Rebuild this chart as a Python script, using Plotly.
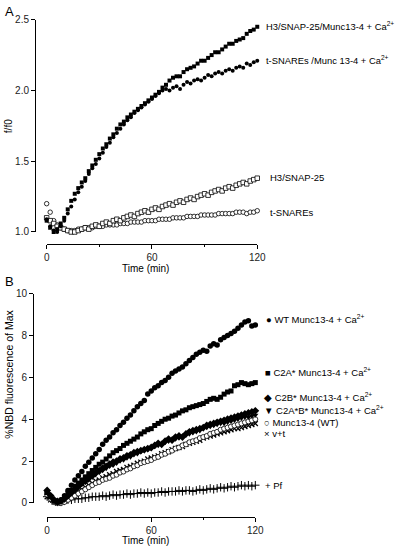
import plotly.graph_objects as go

# ---------------- data ----------------
time_min = [0, 2, 4, 6, 8, 10, 12, 14, 16, 18, 20, 22, 24, 26, 28, 30, 32, 34, 36, 38,
            40, 42, 44, 46, 48, 50, 52, 54, 56, 58, 60, 62, 64, 66, 68, 70, 72, 74, 76, 78,
            80, 82, 84, 86, 88, 90, 92, 94, 96, 98, 100, 102, 104, 106, 108, 110, 112, 114,
            116, 118, 120]

# Panel A (f/f0)
a_h3_snap25_munc_ca = [1.08, 1.03, 1.00, 1.02, 1.06, 1.10, 1.16, 1.22, 1.27, 1.31,
                       1.35, 1.38, 1.43, 1.47, 1.51, 1.55, 1.59, 1.62, 1.66, 1.69,
                       1.73, 1.76, 1.78, 1.81, 1.83, 1.85, 1.87, 1.89, 1.91, 1.93,
                       1.95, 1.97, 1.99, 2.02, 2.04, 2.07, 2.09, 2.10, 2.10, 2.13,
                       2.15, 2.16, 2.17, 2.19, 2.21, 2.21, 2.23, 2.25, 2.27, 2.27,
                       2.29, 2.31, 2.33, 2.33, 2.35, 2.36, 2.37, 2.40, 2.42, 2.43, 2.45]
a_tsnare_munc_ca = [1.09, 1.04, 1.01, 1.00, 1.04, 1.08, 1.13, 1.18, 1.23, 1.28,
                    1.32, 1.36, 1.41, 1.45, 1.48, 1.52, 1.56, 1.60, 1.63, 1.67,
                    1.70, 1.73, 1.76, 1.79, 1.81, 1.84, 1.86, 1.88, 1.90, 1.92,
                    1.94, 1.96, 1.98, 2.00, 2.01, 2.00, 2.02, 2.03, 2.01, 2.04,
                    2.06, 2.05, 2.07, 2.08, 2.07, 2.09, 2.11, 2.10, 2.12, 2.13,
                    2.12, 2.14, 2.15, 2.14, 2.16, 2.17, 2.16, 2.19, 2.18, 2.20, 2.21]
a_h3_snap25 = [1.10, 1.08, 1.06, 1.04, 1.03, 1.02, 1.01, 1.00, 1.00, 1.01,
               1.02, 1.03, 1.02, 1.04, 1.05, 1.04, 1.06, 1.07, 1.06, 1.08,
               1.09, 1.08, 1.10, 1.11, 1.12, 1.11, 1.13, 1.14, 1.15, 1.14,
               1.16, 1.17, 1.16, 1.18, 1.19, 1.20, 1.19, 1.21, 1.22, 1.21,
               1.23, 1.24, 1.23, 1.25, 1.26, 1.27, 1.26, 1.28, 1.29, 1.30,
               1.29, 1.31, 1.32, 1.31, 1.33, 1.34, 1.35, 1.34, 1.36, 1.37, 1.38]
a_tsnares = [1.20, 1.14, 1.08, 1.05, 1.03, 1.02, 1.01, 1.01, 1.01, 1.02,
             1.02, 1.03, 1.03, 1.03, 1.04, 1.04, 1.04, 1.05, 1.05, 1.05,
             1.05, 1.06, 1.06, 1.06, 1.07, 1.07, 1.07, 1.07, 1.08, 1.08,
             1.08, 1.08, 1.09, 1.09, 1.09, 1.09, 1.10, 1.10, 1.10, 1.10,
             1.11, 1.11, 1.11, 1.11, 1.12, 1.12, 1.12, 1.12, 1.12, 1.13,
             1.13, 1.13, 1.13, 1.13, 1.14, 1.14, 1.14, 1.13, 1.14, 1.14, 1.15]

# Panel B (%NBD fluorescence of Max)
b_wt_ca = [0.50, 0.30, 0.10, 0.05, 0.15, 0.35, 0.60, 0.85, 1.10, 1.30,
           1.50, 1.75, 1.95, 2.15, 2.35, 2.55, 2.80, 3.00, 3.15, 3.35,
           3.50, 3.70, 3.85, 4.05, 4.20, 4.40, 4.60, 4.75, 4.90, 5.20,
           5.35, 5.50, 5.60, 5.75, 5.85, 6.00, 6.20, 6.30, 6.40, 6.50,
           6.65, 6.80, 6.95, 7.10, 7.20, 7.30, 7.25, 7.50, 7.60, 7.55,
           7.80, 7.90, 8.00, 8.10, 8.20, 8.35, 8.50, 8.65, 8.70, 8.45, 8.50]
b_c2a_ca = [0.50, 0.30, 0.10, 0.05, 0.10, 0.25, 0.45, 0.60, 0.80, 0.95,
            1.10, 1.25, 1.40, 1.55, 1.70, 1.85, 1.95, 2.10, 2.25, 2.40,
            2.50, 2.60, 2.75, 2.85, 2.95, 3.05, 3.15, 3.30, 3.40, 3.50,
            3.55, 3.70, 3.80, 3.90, 4.00, 4.05, 4.15, 4.20, 4.30, 4.40,
            4.45, 4.55, 4.60, 4.65, 4.70, 4.75, 4.85, 4.95, 5.00, 4.95,
            5.05, 5.20, 5.30, 5.35, 5.60, 5.65, 5.75, 5.70, 5.65, 5.70, 5.75]
b_c2b_ca = [0.60, 0.35, 0.15, 0.05, 0.10, 0.20, 0.35, 0.50, 0.65, 0.80,
            0.95, 1.05, 1.20, 1.30, 1.45, 1.55, 1.65, 1.75, 1.85, 1.95,
            2.00, 2.10, 2.15, 2.25, 2.30, 2.40, 2.45, 2.50, 2.55, 2.60,
            2.65, 2.75, 2.85, 2.80, 2.95, 3.05, 3.00, 3.15, 3.20, 3.15,
            3.30, 3.40, 3.45, 3.50, 3.55, 3.60, 3.70, 3.75, 3.80, 3.85,
            3.90, 3.95, 4.00, 4.05, 4.10, 4.15, 4.20, 4.25, 4.30, 4.35, 4.40]
b_c2ab_ca = [0.55, 0.30, 0.15, 0.05, 0.05, 0.15, 0.30, 0.45, 0.60, 0.75,
             0.90, 1.00, 1.10, 1.25, 1.35, 1.45, 1.55, 1.65, 1.75, 1.80,
             1.90, 2.00, 2.05, 2.15, 2.20, 2.30, 2.35, 2.45, 2.50, 2.55,
             2.60, 2.70, 2.75, 2.80, 2.90, 2.95, 3.00, 3.05, 3.10, 3.20,
             3.25, 3.30, 3.35, 3.40, 3.45, 3.55, 3.60, 3.65, 3.70, 3.75,
             3.80, 3.80, 3.85, 3.90, 3.95, 4.00, 4.05, 4.10, 4.10, 4.15, 4.20]
b_munc_wt = [0.40, 0.20, 0.05, 0.00, 0.00, 0.05, 0.15, 0.25, 0.35, 0.45,
             0.55, 0.65, 0.75, 0.85, 0.95, 1.00, 1.10, 1.15, 1.20, 1.30,
             1.35, 1.45, 1.50, 1.60, 1.65, 1.75, 1.80, 1.90, 1.95, 2.00,
             2.05, 2.15, 2.20, 2.30, 2.35, 2.45, 2.50, 2.60, 2.65, 2.75,
             2.80, 2.90, 2.95, 3.00, 3.10, 3.15, 3.20, 3.30, 3.35, 3.40,
             3.50, 3.55, 3.60, 3.65, 3.70, 3.75, 3.80, 3.85, 3.90, 3.95, 4.00]
b_v_t = [0.30, 0.15, 0.05, 0.00, 0.05, 0.10, 0.20, 0.35, 0.45, 0.55,
         0.65, 0.75, 0.85, 0.95, 1.05, 1.10, 1.20, 1.25, 1.35, 1.40,
         1.50, 1.55, 1.60, 1.70, 1.75, 1.80, 1.90, 1.95, 2.00, 2.10,
         2.15, 2.20, 2.25, 2.35, 2.40, 2.45, 2.55, 2.60, 2.65, 2.70,
         2.80, 2.85, 2.90, 2.95, 3.00, 3.10, 3.15, 3.20, 3.25, 3.30,
         3.35, 3.40, 3.45, 3.50, 3.55, 3.55, 3.60, 3.65, 3.70, 3.75, 3.80]
b_pf = [0.30, 0.20, 0.10, 0.05, 0.05, 0.10, 0.15, 0.15, 0.20, 0.20,
        0.20, 0.25, 0.25, 0.30, 0.30, 0.30, 0.35, 0.30, 0.35, 0.40,
        0.35, 0.40, 0.40, 0.45, 0.40, 0.45, 0.45, 0.50, 0.45, 0.50,
        0.45, 0.50, 0.50, 0.55, 0.50, 0.55, 0.55, 0.55, 0.60, 0.55,
        0.60, 0.60, 0.55, 0.60, 0.65, 0.60, 0.65, 0.70, 0.65, 0.70,
        0.75, 0.70, 0.75, 0.80, 0.75, 0.80, 0.85, 0.80, 0.85, 0.80, 0.85]

x_ticks = [0, 60, 120]
a_y_ticks = [1.0, 1.5, 2.0, 2.5]
a_y_ticklabels = ["1.0", "1.5", "2.0", "2.5"]
b_y_ticks = [0, 2, 4, 6, 8, 10]

for arr in [a_h3_snap25_munc_ca, a_tsnare_munc_ca, a_h3_snap25, a_tsnares, b_wt_ca, b_c2a_ca,
            b_c2b_ca, b_c2ab_ca, b_munc_wt, b_v_t, b_pf]:
    assert len(arr) == len(time_min), len(arr)

# ---------------- figure ----------------
W, H = 406, 553
FONT = "Liberation Sans, Arial, sans-serif"


def px(x):
    return x / W


def py(y):
    return 1 - y / H


fig = go.Figure()


def add(x, y, symbol, size, xa, ya, color="black", lw=0.8):
    fig.add_trace(go.Scatter(
        x=x, y=y, mode="markers", xaxis=xa, yaxis=ya, cliponaxis=False,
        marker=dict(symbol=symbol, size=size, color=color,
                    line=dict(color="black", width=lw)),
        showlegend=False, hoverinfo="x+y"))


# Panel A
add(time_min, a_tsnares, "circle", 4.5, "x", "y", color="white", lw=0.8)
add(time_min, a_h3_snap25, "square", 4.5, "x", "y", color="white", lw=0.8)
add(time_min, a_tsnare_munc_ca, "circle", 4, "x", "y", lw=0)
add(time_min, a_h3_snap25_munc_ca, "square", 4, "x", "y", lw=0)

# Panel B
add(time_min, b_pf, "cross-thin-open", 6, "x2", "y2", lw=1)
add(time_min, b_v_t, "x-thin-open", 5, "x2", "y2", lw=1.3)
add(time_min, b_munc_wt, "circle", 5, "x2", "y2", color="white", lw=0.8)
add(time_min, b_c2ab_ca, "triangle-down", 5.5, "x2", "y2", lw=0)
add(time_min, b_c2b_ca, "diamond", 6, "x2", "y2", lw=0)
add(time_min, b_c2a_ca, "square", 5, "x2", "y2", lw=0)
add(time_min, b_wt_ca, "circle", 5.5, "x2", "y2", lw=0)

axis_common = dict(showgrid=False, zeroline=False, showline=True, linecolor="black",
                   linewidth=1, ticks="outside", ticklen=4, tickwidth=1, tickcolor="black",
                   tickfont=dict(family=FONT, size=10, color="#222"))

fig.update_layout(
    width=W, height=H, margin=dict(l=0, r=0, t=0, b=0),
    plot_bgcolor="white", paper_bgcolor="white",
    xaxis=dict(domain=[px(45), px(262)], range=[0, 120], anchor="free", position=py(243),
               tickvals=x_ticks, minor=dict(tickvals=[30, 90], ticks="outside", ticklen=2,
                                            tickcolor="black"), **axis_common),
    yaxis=dict(domain=[py(231), py(14)], range=[1.0, 2.5], anchor="free", position=px(33),
               tickvals=a_y_ticks, ticktext=a_y_ticklabels, **axis_common),
    xaxis2=dict(domain=[px(45.5), px(260)], range=[0, 120], anchor="free", position=py(522.5),
                tickvals=x_ticks, minor=dict(tickvals=[30, 90], ticks="outside", ticklen=2,
                                             tickcolor="black"), **axis_common),
    yaxis2=dict(domain=[py(508), py(294)], range=[0, 10], anchor="free", position=px(31),
                tickvals=b_y_ticks, **axis_common),
)


def ann(text, x, y, xanchor="left", size=9.5, angle=0):
    fig.add_annotation(text=text, x=px(x), y=py(y), xref="paper", yref="paper",
                       xanchor=xanchor, yanchor="middle", showarrow=False, textangle=angle,
                       font=dict(family=FONT, size=size, color="black"))


# panel letters
ann("A", 0, 6, size=13)
ann("B", 0, 282, size=13)

# axis titles
ann("f/f0", 6, 123, xanchor="center", size=10, angle=-90)
ann("Time (min)", 147, 268, xanchor="center", size=10)
ann("%NBD fluorescence of Max", 6, 376, xanchor="center", size=10.5, angle=-90)
ann("Time (min)", 147, 546, xanchor="center", size=10)

# panel A labels
ann("H3/SNAP-25/Munc13-4 + Ca<sup>2+</sup>", 269, 20, size=9.4)
ann("t-SNAREs /Munc 13-4 + Ca<sup>2+</sup>", 269, 55, size=9.4)
ann("H3/SNAP-25", 273, 175, size=9.5)
ann("t-SNAREs", 273, 211, size=9.5)

# panel B labels
ann("\u25CF WT Munc13-4 + Ca<sup>2+</sup>", 269, 320, size=9.5)
ann("\u25A0 C2A* Munc13-4 + Ca<sup>2+</sup>", 268, 374, size=9.5)
ann("\u25C6 C2B* Munc13-4 + Ca<sup>2+</sup>", 267, 400, size=9.5)
ann("\u25BC C2A*B* Munc13-4 + Ca<sup>2+</sup>", 267, 413, size=9.5)
ann("\u25CB Munc13-4 (WT)", 267, 426, size=9.5)
ann("\u00D7 v+t", 267, 437, size=9.5)
ann("+ Pf", 268, 490, size=9.5)

fig.write_html("out.html", config={"displayModeBar": False},
               post_script="document.body.style.margin='0';document.body.style.overflow='hidden';")
